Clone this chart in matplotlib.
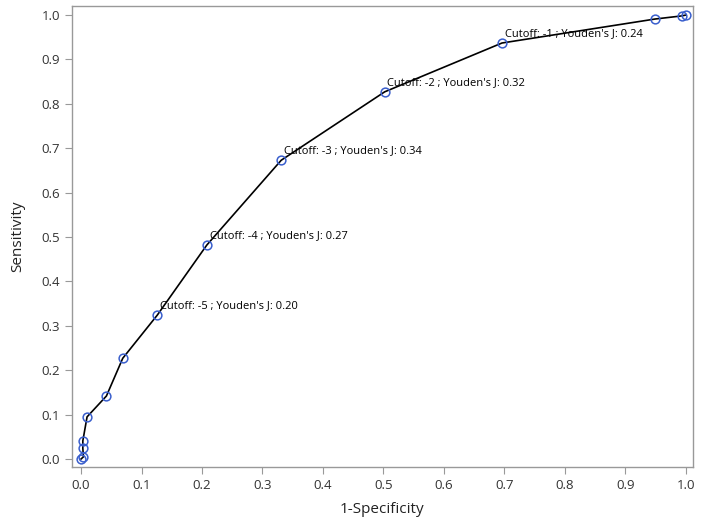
import matplotlib
matplotlib.use("Agg")
import matplotlib.pyplot as plt

fpr = [0.0, 0.004, 0.003, 0.003, 0.010, 0.042, 0.069, 0.126, 0.208, 0.331, 0.502, 0.696, 0.949, 0.993, 1.0]
tpr = [0.0, 0.005, 0.024, 0.041, 0.095, 0.142, 0.227, 0.324, 0.482, 0.673, 0.827, 0.937, 0.991, 0.998, 1.0]

lab_x = [0.126, 0.208, 0.331, 0.502, 0.696]
lab_y = [0.324, 0.482, 0.673, 0.827, 0.937]
labels = ["Cutoff: -5 ; Youden's J: 0.20",
          "Cutoff: -4 ; Youden's J: 0.27",
          "Cutoff: -3 ; Youden's J: 0.34",
          "Cutoff: -2 ; Youden's J: 0.32",
          "Cutoff: -1 ; Youden's J: 0.24"]

xticks = [0.0, 0.1, 0.2, 0.3, 0.4, 0.5, 0.6, 0.7, 0.8, 0.9, 1.0]
yticks = [0.0, 0.1, 0.2, 0.3, 0.4, 0.5, 0.6, 0.7, 0.8, 0.9, 1.0]

plt.rcParams['font.family'] = ['Open Sans', 'DejaVu Sans']

fig = plt.figure(figsize=(7.08, 5.23), dpi=100)
ax = fig.add_axes([0.1017, 0.107, 0.877, 0.8815])

ax.plot(fpr, tpr, color='black', lw=1.2, zorder=2)
ax.plot(fpr, tpr, ls='none', marker='o', ms=6.3, mfc='none', mec='#3a5fcd', mew=1.1, zorder=3)

for x, y, t in zip(lab_x, lab_y, labels):
    ax.annotate(t, (x, y), xytext=(2, 3), textcoords='offset points',
                fontsize=8, ha='left', va='bottom', color='black')

ax.set_xlim(-0.0149, 1.0116)
ax.set_ylim(-0.018, 1.0203)
ax.set_xticks(xticks)
ax.set_yticks(yticks)
ax.set_xticklabels([f"{v:.1f}" for v in xticks])
ax.set_yticklabels([f"{v:.1f}" for v in yticks])
ax.tick_params(direction='out', length=5, width=0.8, color='#999999', labelsize=9.5, labelcolor='#333333')
for s in ax.spines.values():
    s.set_color('#999999')
    s.set_linewidth(1.0)
ax.set_xlabel('1-Specificity', fontsize=11, color='#222222', labelpad=7)
ax.set_ylabel('Sensitivity', fontsize=11, color='#222222', labelpad=12)

fig.savefig('out.png', dpi=100)
